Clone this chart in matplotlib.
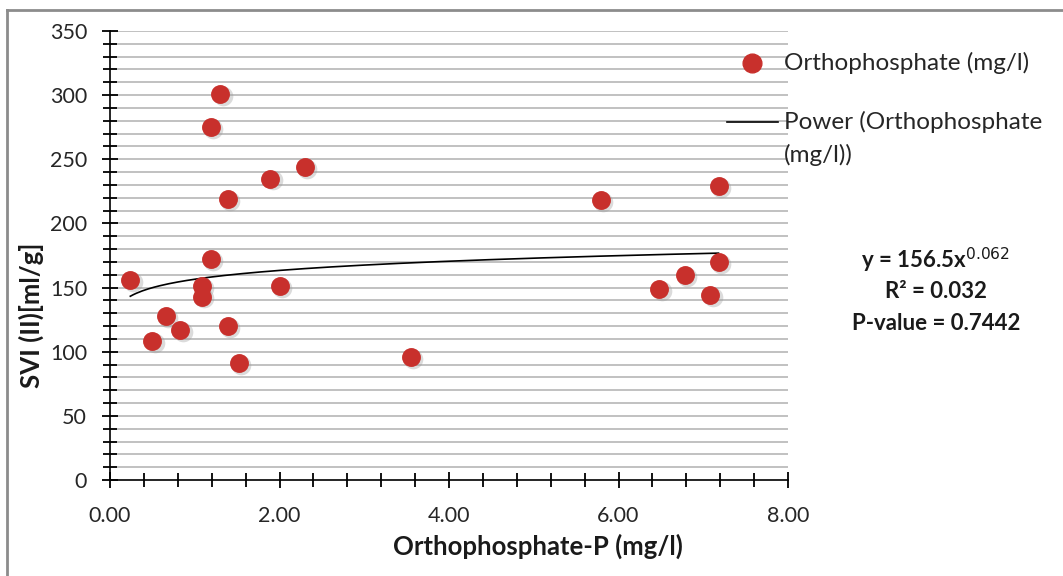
import numpy as np
import matplotlib.pyplot as plt
from matplotlib.lines import Line2D
from matplotlib.ticker import MultipleLocator, FormatStrFormatter

plt.rcParams['font.family'] = ['Lato', 'DejaVu Sans']

# Orthophosphate-P (mg/l) vs SVI (II) [ml/g]
ortho_p = [1.30, 1.19, 1.39, 1.89, 2.30, 1.19, 0.24, 1.08, 2.00, 1.08, 0.66,
           0.50, 0.83, 1.39, 1.52, 3.55, 5.79, 7.18, 7.18, 6.78, 6.48, 7.08]
svi = [301, 275, 219, 235, 244, 172, 156, 151, 151, 143, 128,
       108, 117, 120, 91, 96, 218, 229, 170, 160, 149, 144]

# power trend line y = a * x^b
fit_a = 156.5
fit_b = 0.062
eq_lines = ['y = 156.5x$^{0.062}$', 'R² = 0.032', 'P-value = 0.7442']

W, H = 1063, 576
fig = plt.figure(figsize=(W / 100, H / 100), dpi=100)

def fx(px):
    return px / W

def fy(py):
    return 1 - py / H

# outer chart frame (top and left edges visible)
fig.add_artist(Line2D([fx(7), 1.0], [fy(10), fy(10)], color='#8c8c8c', linewidth=2,
                      transform=fig.transFigure))
fig.add_artist(Line2D([fx(7), fx(7)], [fy(10), 0.0], color='#8c8c8c', linewidth=2,
                      transform=fig.transFigure))

ax = fig.add_axes([fx(110), fy(480), 678 / W, 449 / H])

for v in range(10, 360, 10):
    ax.axhline(v, color='#bcbcbc', linewidth=1.3, zorder=0)

xt = np.array(ortho_p)
xs = np.linspace(xt.min(), xt.max(), 200)
ax.plot(xs, fit_a * xs ** fit_b, color='black', linewidth=1.2, zorder=2)

ax.scatter(np.array(ortho_p) + 0.03, np.array(svi) - 1.5, s=200, color='#9a9a9a',
           alpha=0.35, linewidths=0, zorder=3)
ax.scatter(ortho_p, svi, s=185, color='#c8302c', linewidths=0, zorder=4)

ax.set_xlim(0, 8)
ax.set_ylim(0, 350)
ax.xaxis.set_major_locator(MultipleLocator(2))
ax.xaxis.set_minor_locator(MultipleLocator(0.4))
ax.yaxis.set_major_locator(MultipleLocator(50))
ax.yaxis.set_minor_locator(MultipleLocator(10))
ax.xaxis.set_major_formatter(FormatStrFormatter('%.2f'))

for side in ['top', 'right']:
    ax.spines[side].set_visible(False)
for side in ['left', 'bottom']:
    ax.spines[side].set_color('black')
    ax.spines[side].set_linewidth(1.2)

ax.tick_params(which='both', direction='inout', color='black', width=1.3)
ax.tick_params(which='major', length=11, labelsize=15.5, labelcolor='#262626')
ax.tick_params(which='minor', length=10)
ax.tick_params(axis='x', which='major', pad=13)
ax.tick_params(axis='y', which='major', pad=11)

fig.text(fx(538), fy(546), 'Orthophosphate-P (mg/l)', fontsize=18.5, fontweight='bold',
         ha='center', va='center', color='#1a1a1a')
fig.text(fx(31), fy(315), 'SVI (II)[ml/g]', fontsize=18.5, fontweight='bold',
         ha='center', va='center', rotation=90, color='#1a1a1a')

# legend drawn as figure artists
fig.add_artist(Line2D([fx(752)], [fy(63)], marker='o', markersize=13.5,
                      color='#c8302c', linestyle='none', transform=fig.transFigure))
fig.text(fx(784), fy(63), 'Orthophosphate (mg/l)', fontsize=17.5,
         va='center', color='#262626')
fig.add_artist(Line2D([fx(727), fx(778)], [fy(122)] * 2, color='black',
                      linewidth=1.2, transform=fig.transFigure))
fig.text(fx(784), fy(122), 'Power (Orthophosphate', fontsize=17.5,
         va='center', color='#262626')
fig.text(fx(784), fy(155), '(mg/l))', fontsize=17.5,
         va='center', color='#262626')

for i, line in enumerate(eq_lines):
    fig.text(fx(936), fy([260, 291, 323][i]), line, fontsize=16,
             fontweight='bold', ha='center', va='center', color='#1a1a1a')

fig.savefig('out.png', dpi=100)
